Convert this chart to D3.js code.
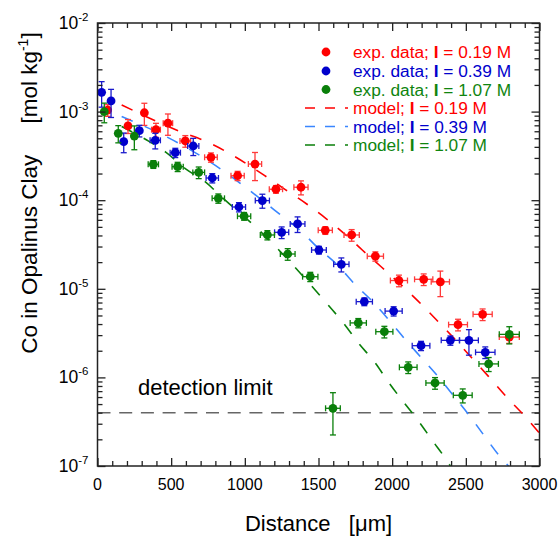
<!DOCTYPE html>
<html><head><meta charset="utf-8">
<script src="https://cdn.jsdelivr.net/npm/d3@7"></script>
<style>
html,body{margin:0;padding:0;background:#fff;}
svg{display:block;font-family:"Liberation Sans",Arial,Helvetica,sans-serif;}
</style></head>
<body><svg id="chart" width="560" height="539"></svg>
<script>
// ---- data ----
const redX  = [69,207,318,397,478,596,770,951,1069,1211,1381,1546,1725,1886,2046,2214,2327,2447,2614,2795];
const redY  = [1.04e-3,6.9e-4,9.7e-4,6.25e-4,7.4e-4,4.66e-4,3.05e-4,1.89e-4,2.56e-4,1.33e-4,1.40e-4,4.57e-5,4.05e-5,2.33e-5,1.24e-5,1.28e-5,1.2e-5,3.94e-6,5.15e-6,2.85e-6];
const redYErr = [0.15,0.18,0.28,0.18,0.27,0.15,0.12,0.12,0.35,0.10,0.18,0.10,0.15,0.12,0.15,0.15,0.32,0.15,0.15,0.15];
const redXErr = [0,0,0,30,32,36,43,45,45,45,48,48,52,55,58,62,62,64,65,68];

const blueX = [28,92,178,284,392,528,650,779,960,1119,1250,1358,1503,1655,1811,2010,2196,2395,2521,2632];
const blueY = [1.65e-3,1.32e-3,4.58e-4,6.09e-4,4.74e-4,3.44e-4,4.09e-4,1.78e-4,8.38e-5,9.9e-5,4.34e-5,5.4e-5,2.74e-5,1.89e-5,7.16e-6,5.6e-6,2.28e-6,2.62e-6,2.62e-6,1.92e-6];
const blueYErr = [0.32,0.35,0.25,0.15,0.20,0.12,0.22,0.12,0.12,0.18,0.15,0.20,0.10,0.18,0.10,0.12,0.12,0.12,0.32,0.15];
const blueXErr = [0,0,0,0,35,35,38,42,45,48,48,50,50,52,55,58,60,62,64,66];

const greenX = [46,141,250,379,544,687,820,995,1153,1291,1444,1598,1770,1947,2109,2291,2479,2655,2795];
const greenY = [9.97e-4,5.69e-4,5.3e-4,2.54e-4,2.39e-4,2.06e-4,1.05e-4,6.6e-5,4.05e-5,2.47e-5,1.37e-5,4.48e-7,4.12e-6,3.28e-6,1.30e-6,8.65e-7,6.28e-7,1.42e-6,3.06e-6];
const greenYErr = [0.25,0.22,0.30,0.10,0.12,0.15,0.12,0.10,0.12,0.15,0.12,0.50,0.12,0.15,0.15,0.15,0.18,0.18,0.22];
const greenXErr = [0,0,0,35,38,40,42,45,48,50,52,50,55,58,60,62,64,66,68];

const redModelX = [164,567,741,874,1006,1130,1277,1420,1549,1673,1797,1929,2171,2295,2417,2535,2655,2775,2895,3000];
const redModelY = [1.19e-3,5.9e-4,4.57e-4,3.53e-4,2.61e-4,1.92e-4,1.31e-4,9.06e-5,6.24e-5,4.23e-5,2.74e-5,1.75e-5,7.41e-6,4.56e-6,2.79e-6,1.70e-6,1.02e-6,6.05e-7,3.73e-7,2.35e-7];
const blueModelX = [164,458,605,730,861,992,1250,1386,1492,1628,1741,1861,1978,2092,2202,2318,2422,2523,2623,2725,2790];
const blueModelY = [8.8e-4,5.3e-4,3.92e-4,2.94e-4,2.1e-4,1.45e-4,6.68e-5,4.41e-5,2.94e-5,1.86e-5,1.15e-5,7.34e-6,4.45e-6,2.64e-6,1.64e-6,9.93e-7,6.05e-7,3.73e-7,2.22e-7,1.32e-7,1.0e-7];
const greenModelX = [164,334,465,603,730,847,1103,1284,1567,1673,1770,1879,1976,2071,2175,2272,2370,2395];
const greenModelY = [6.8e-4,4.78e-4,3.47e-4,2.23e-4,1.62e-4,1.07e-4,4.49e-5,2.21e-5,6.51e-6,4.04e-6,2.45e-6,1.50e-6,8.8e-7,5.42e-7,3.28e-7,1.95e-7,1.16e-7,1.0e-7];

const detectionLimit = 4e-7;
const xTickValues = [0,500,1000,1500,2000,2500,3000];
const xTickLabels = ["0","500","1000","1500","2000","2500","3000"];
const yTickValues = [1e-7,1e-6,1e-5,1e-4,1e-3,1e-2];
const yTickExponents = ["-7","-6","-5","-4","-3","-2"];
const legendLabels = ["exp. data; ", "exp. data; ", "exp. data; ", "model; ", "model; ", "model; "];
const legendValues = [" = 0.19 M"," = 0.39 M"," = 1.07 M"," = 0.19 M"," = 0.39 M"," = 1.07 M"];

// ---- chart ----
const svg = d3.select("#chart");
const L = 97.5, R = 539.5, T = 23, B = 466;
const x = d3.scaleLinear().domain([0,3000]).range([L,R]);
const y = d3.scaleLog().domain([1e-7,1e-2]).range([B,T]);

const series = [
  {X:redX,Y:redY,YE:redYErr,XE:redXErr,pt:"#ff0000",eb:"#ff3a3a",mX:redModelX,mY:redModelY,line:"#ff0000",txt:"#ff0000"},
  {X:blueX,Y:blueY,YE:blueYErr,XE:blueXErr,pt:"#0000cc",eb:"#1a1acc",mX:blueModelX,mY:blueModelY,line:"#3a86ff",txt:"#0000cc"},
  {X:greenX,Y:greenY,YE:greenYErr,XE:greenXErr,pt:"#0a7f0a",eb:"#0a7f0a",mX:greenModelX,mY:greenModelY,line:"#0a7f0a",txt:"#0f850f"}
];

svg.append("defs").append("clipPath").attr("id","clip")
  .append("rect").attr("x",L).attr("y",T).attr("width",R-L).attr("height",B-T);

// detection limit
svg.append("line").attr("x1",L).attr("x2",R)
  .attr("y1",y(detectionLimit)).attr("y2",y(detectionLimit))
  .attr("stroke","#666").attr("stroke-width",1.5).attr("stroke-dasharray","13,8.7");
svg.append("text").attr("x",138).attr("y",y(detectionLimit)-18)
  .attr("font-size",22).attr("fill","#000").text("detection limit");

// model lines
const lineGen = d3.line().x(d=>x(d[0])).y(d=>y(d[1])).curve(d3.curveMonotoneX);
series.forEach(s=>{
  const pts = s.mX.map((v,i)=>[v,s.mY[i]]);
  svg.append("path").attr("d",lineGen(pts)).attr("clip-path","url(#clip)")
    .attr("fill","none").attr("stroke",s.line).attr("stroke-width",1.6)
    .attr("stroke-dasharray","12,13");
});

// points with error bars
series.forEach(s=>{
  const g = svg.append("g");
  s.X.forEach((xv,i)=>{
    const yv = s.Y[i], e = s.YE[i], xe = s.XE[i];
    const cx = x(xv), cy = y(yv);
    const yt = y(yv*(1+e)), yb = y(yv*(1-e));
    g.append("line").attr("x1",cx).attr("x2",cx).attr("y1",yt).attr("y2",yb).attr("stroke",s.eb).attr("stroke-width",1.3);
    g.append("line").attr("x1",cx-3).attr("x2",cx+3).attr("y1",yt).attr("y2",yt).attr("stroke",s.eb).attr("stroke-width",1.3);
    g.append("line").attr("x1",cx-3).attr("x2",cx+3).attr("y1",yb).attr("y2",yb).attr("stroke",s.eb).attr("stroke-width",1.3);
    if (xe>0){
      const xl = x(xv-xe), xr = x(xv+xe);
      g.append("line").attr("x1",xl).attr("x2",xr).attr("y1",cy).attr("y2",cy).attr("stroke",s.eb).attr("stroke-width",1.3);
      g.append("line").attr("x1",xl).attr("x2",xl).attr("y1",cy-3).attr("y2",cy+3).attr("stroke",s.eb).attr("stroke-width",1.3);
      g.append("line").attr("x1",xr).attr("x2",xr).attr("y1",cy-3).attr("y2",cy+3).attr("stroke",s.eb).attr("stroke-width",1.3);
    }
    g.append("circle").attr("cx",cx).attr("cy",cy).attr("r",4.4).attr("fill",s.pt);
  });
});

// axes ticks (inward) on all four sides
const xMinor = d3.range(0,3001,100).filter(v=>v%500!==0);
const yMinor = [];
for (let p=-7;p<-2;p++) for (let k=2;k<=9;k++) yMinor.push(k*Math.pow(10,p));
function ax(gen, tr){
  const g = svg.append("g").attr("transform",tr).call(gen);
  g.select(".domain").remove();
  g.selectAll("text").remove();
  g.selectAll("line").attr("stroke","#222").attr("stroke-width",1.3);
}
ax(d3.axisBottom(x).tickValues(xTickValues).tickSize(-8),`translate(0,${B})`);
ax(d3.axisBottom(x).tickValues(xMinor).tickSize(-5),`translate(0,${B})`);
ax(d3.axisTop(x).tickValues(xTickValues).tickSize(-8),`translate(0,${T})`);
ax(d3.axisTop(x).tickValues(xMinor).tickSize(-5),`translate(0,${T})`);
ax(d3.axisLeft(y).tickValues(yTickValues).tickSize(-8),`translate(${L},0)`);
ax(d3.axisLeft(y).tickValues(yMinor).tickSize(-5),`translate(${L},0)`);
ax(d3.axisRight(y).tickValues(yTickValues).tickSize(-8),`translate(${R},0)`);
ax(d3.axisRight(y).tickValues(yMinor).tickSize(-5),`translate(${R},0)`);

svg.append("rect").attr("x",L).attr("y",T).attr("width",R-L).attr("height",B-T)
  .attr("fill","none").attr("stroke","#222").attr("stroke-width",1.5);

// tick labels
xTickValues.forEach((v,i)=>{
  svg.append("text").attr("x",x(v)).attr("y",B+24).attr("text-anchor","middle")
    .attr("font-size",16).attr("fill","#000").text(xTickLabels[i]);
});
yTickValues.forEach((v,i)=>{
  const t = svg.append("text").attr("x",L-9).attr("y",y(v)+6).attr("text-anchor","end")
    .attr("font-size",17.5).attr("fill","#000");
  t.append("tspan").text("10");
  t.append("tspan").attr("font-size",11.5).attr("dy",-8).text(yTickExponents[i]);
});

// axis titles
svg.append("text").attr("x",(L+R)/2).attr("y",531).attr("text-anchor","middle")
  .attr("font-size",22).attr("fill","#000").style("white-space","pre")
  .text("Distance   [\u03bcm]");
const yt = svg.append("text").attr("transform","translate(37,193) rotate(-90)")
  .attr("text-anchor","middle").attr("font-size",22.5).attr("fill","#000").style("white-space","pre");
yt.append("tspan").text("Co in Opalinus Clay     [mol kg");
yt.append("tspan").attr("font-size",14).attr("dy",-9).text("-1");
yt.append("tspan").attr("dy",9).text("]");

// legend
const legY = [58,77,95.5,114,132.5,151];
legendLabels.forEach((lab,i)=>{
  const s = series[i%3];
  const cy = legY[i]-6;
  if (i<3){
    svg.append("circle").attr("cx",326).attr("cy",cy).attr("r",4.4).attr("fill",s.pt);
  } else {
    svg.append("line").attr("x1",305).attr("x2",348).attr("y1",cy).attr("y2",cy)
      .attr("stroke",s.line).attr("stroke-width",1.6).attr("stroke-dasharray","10,10");
  }
  const t = svg.append("text").attr("x",353).attr("y",legY[i]).attr("font-size",17.3)
    .attr("fill",s.txt).style("white-space","pre");
  t.append("tspan").text(lab);
  t.append("tspan").attr("font-weight","bold").text("I");
  t.append("tspan").text(legendValues[i]);
});
</script></body></html>
